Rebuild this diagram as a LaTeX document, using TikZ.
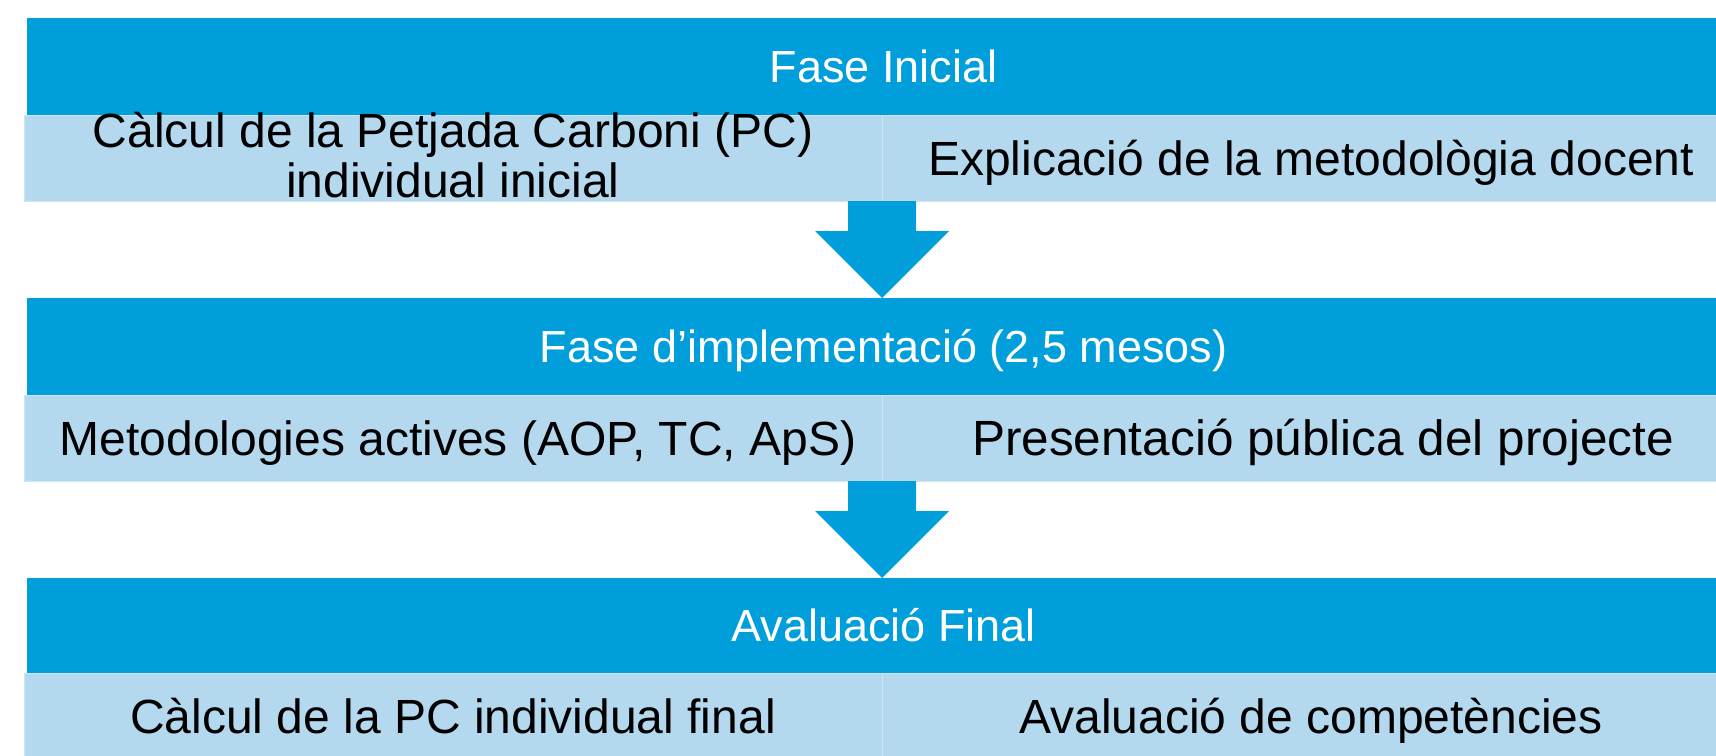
\documentclass[tikz,border=0pt]{standalone}
\usepackage{fontspec}
\setmainfont{Liberation Sans}
\usetikzlibrary{calc}
\definecolor{bandblue}{RGB}{0,159,219}
\definecolor{bandlight}{RGB}{180,216,238}
\definecolor{bandedge}{RGB}{206,229,244}
\tikzset{
  hdr/.style={fill=bandblue, inner sep=0pt, outer sep=0pt, minimum width=1713pt, minimum height=97pt, anchor=north west},
  cell/.style={fill=bandlight, draw=bandedge, line width=1pt, inner sep=0pt, outer sep=0pt, minimum width=858pt, minimum height=86pt, anchor=north west},
  hdrtxt/.style={text=white, font=\fontsize{45}{50}\selectfont, anchor=base, inner sep=0pt},
  celltxt/.style={font=\fontsize{48}{50}\selectfont, anchor=base, inner sep=0pt, align=center},
}
\begin{document}
\begin{tikzpicture}[x=1pt,y=-1pt]
\useasboundingbox (0,0) rectangle (1716,755);
\clip (0,0) rectangle (1716,755);

% Fase inicial
\node[hdr] (hdrA) at (27,18) {};
\node[cell] (cellA1) at (24,115) {};
\node[cell] (cellA2) at (882,115) {};
\node[hdrtxt] (tA) at ([yshift=-16pt]hdrA.center) {Fase Inicial};
\node[celltxt] (tA1) at ([yshift=-39pt]cellA1.center) {Càlcul de la Petjada Carboni (PC)\\individual inicial};
\node[celltxt] (tA2) at ([yshift=-17pt]cellA2.center) {Explicació de la metodològia docent};

% Fase d'implementacio
\node[hdr] (hdrB) at (27,298) {};
\node[cell] (cellB1) at (24,395) {};
\node[cell] (cellB2) at (882,395) {};
\node[hdrtxt] (tB) at ([yshift=-16pt]hdrB.center) {Fase d’implementació (2,5 mesos)};
\node[celltxt] (tB1) at ([xshift=5pt,yshift=-17pt]cellB1.center) {Metodologies actives (AOP, TC, ApS)};
\node[celltxt, font=\fontsize{49.5}{50}\selectfont] (tB2) at ([xshift=12pt,yshift=-17pt]cellB2.center) {Presentació pública del projecte};

% Avaluacio final
\node[hdr, minimum height=95pt] (hdrC) at (27,578) {};
\node[cell] (cellC1) at (24,673) {};
\node[cell] (cellC2) at (882,673) {};
\node[hdrtxt] (tC) at ([yshift=-16pt]hdrC.center) {Avaluació Final};
\node[celltxt] (tC1) at ([yshift=-17pt]cellC1.center) {Càlcul de la PC individual final};
\node[celltxt] (tC2) at ([yshift=-17pt]cellC2.center) {Avaluació de competències};

% fletxes
\fill[bandblue] (cellA1.south east) ++(-34,0) -- ++(68,0) -- ++(0,30) -- ++(33,0) -- ++(-67,67) -- ++(-67,-67) -- ++(33,0) -- cycle;
\fill[bandblue] (cellB1.south east) ++(-34,0) -- ++(68,0) -- ++(0,30) -- ++(33,0) -- ++(-67,67) -- ++(-67,-67) -- ++(33,0) -- cycle;
\end{tikzpicture}
\end{document}
